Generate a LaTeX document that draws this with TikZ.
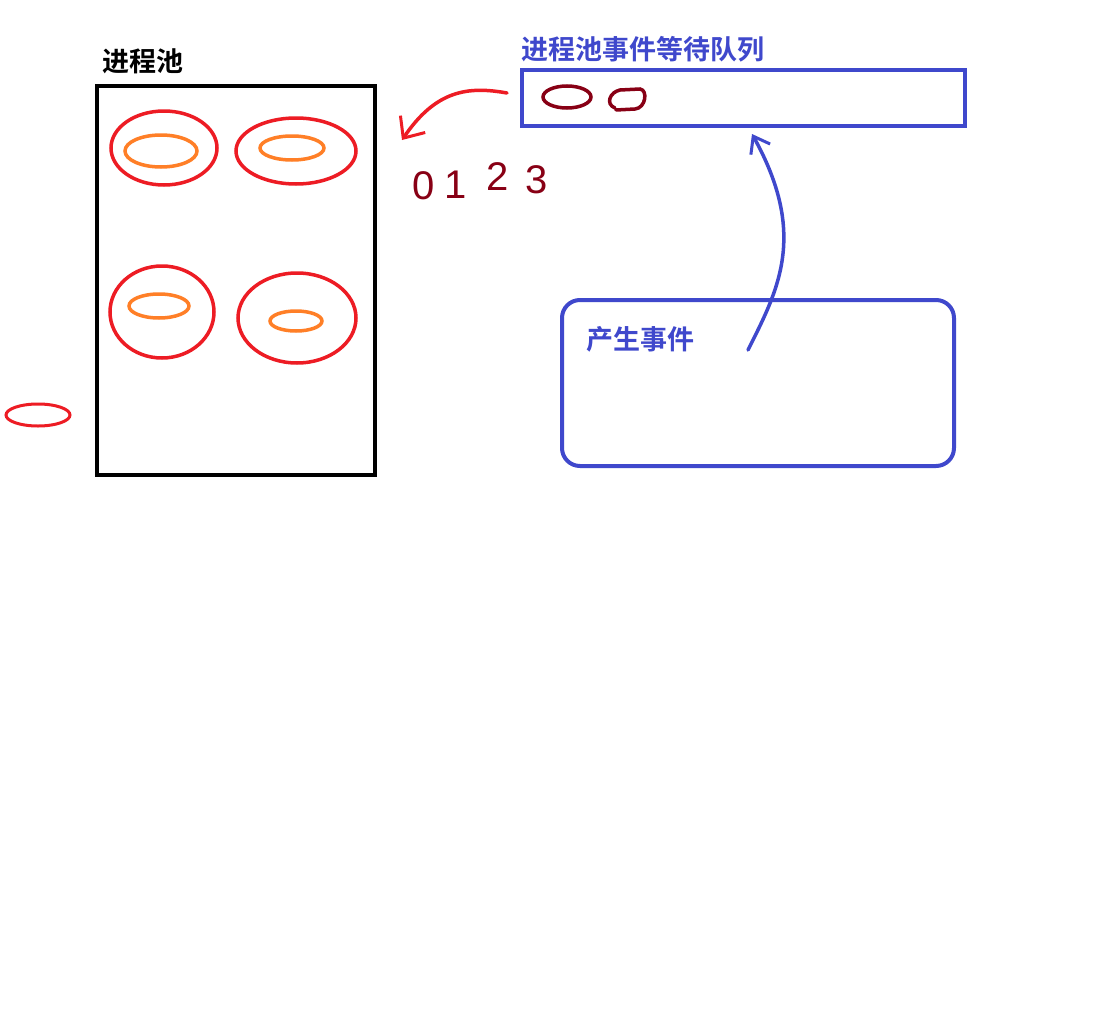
\documentclass[tikz,border=0pt]{standalone}
\usepackage{fontspec}
\setmainfont{Liberation Sans}
\newfontfamily\cjk{Noto Sans CJK SC}[BoldFont={Noto Sans CJK SC Bold}]
\usetikzlibrary{arrows.meta,shapes.geometric}
\definecolor{pred}{HTML}{ED1C24}
\definecolor{porange}{HTML}{FF7F27}
\definecolor{pblue}{HTML}{3F48CC}
\definecolor{pdark}{HTML}{880015}
\tikzset{
  x=1pt,y=-1pt,
  outer/.style={draw=pred,line width=3.5pt},
  inner/.style={draw=porange,line width=3.5pt},
  label/.style={font=\cjk\bfseries\fontsize{27}{27}\selectfont,inner sep=0pt,anchor=west},
  digit/.style={font=\fontsize{40}{40}\selectfont,text=pdark,inner sep=0pt},
  bluebox/.style={draw=pblue,line width=4pt},
}
\begin{document}
\begin{tikzpicture}
\useasboundingbox[fill=white] (0,0) rectangle (1106,1036);
% pool
\node[label,text=black] (pooltitle) at (102,61) {进程池};
\node[draw=black,line width=4pt,minimum width=278pt,minimum height=389pt,inner sep=0pt] (pool) at (236,280.5) {};
\draw[outer] (164,148) ellipse [x radius=53,y radius=37];
\draw[inner] (161,151) ellipse [x radius=36,y radius=16];
\draw[outer] (296,151) ellipse [x radius=60,y radius=33];
\draw[inner] (292,148) ellipse [x radius=32,y radius=12];
\draw[outer] (162,312) ellipse [x radius=52,y radius=46];
\draw[inner] (159,306) ellipse [x radius=30,y radius=12];
\draw[outer] (297,318) ellipse [x radius=59,y radius=45];
\draw[inner] (296,321) ellipse [x radius=26,y radius=10];
\draw[outer,line width=3pt] (38,415) ellipse [x radius=32,y radius=11];
% queue
\node[label,text=pblue] (qtitle) at (521,49) {进程池事件等待队列};
\node[bluebox,minimum width=443pt,minimum height=56pt,inner sep=0pt] (queue) at (743.5,98) {};
\draw[draw=pdark,line width=3.5pt] (567,97) ellipse [x radius=24,y radius=11];
\draw[draw=pdark,line width=3.5pt,line cap=round] (615,108) .. controls (605,104) and (610,92) .. (620,90) -- (640,89) .. controls (648,90) and (646,108) .. (635,109) -- (616,110);
% red arrow
\coordinate (rs) at (507,93);
\coordinate (rt) at (402,140);
\draw[draw=pred,line width=3.5pt,line cap=round,-{Straight Barb[length=17pt,width=30pt,line width=3pt]}] (rs) .. controls (468,86) and (436,90) .. (rt);
% digits
\node[digit] (d0) at (424,186) {0};
\node[digit] (d1) at (456,185) {1};
\node[digit] (d2) at (498,177) {2};
\node[digit] (d3) at (537,180) {3};
% event box
\node[bluebox,rounded corners=18pt,minimum width=392pt,minimum height=166pt,inner sep=0pt] (event) at (758,383) {};
\node[label,text=pblue] (etitle) at (586,339) {产生事件};
\coordinate (bs) at (748,350);
\coordinate (bt) at (752,134);
\draw[draw=pblue,line width=3.5pt,line cap=round,-{Straight Barb[length=15pt,width=22pt,line width=3pt]}] (bs) .. controls (778,290) and (808,235) .. (bt);
\end{tikzpicture}
\end{document}
